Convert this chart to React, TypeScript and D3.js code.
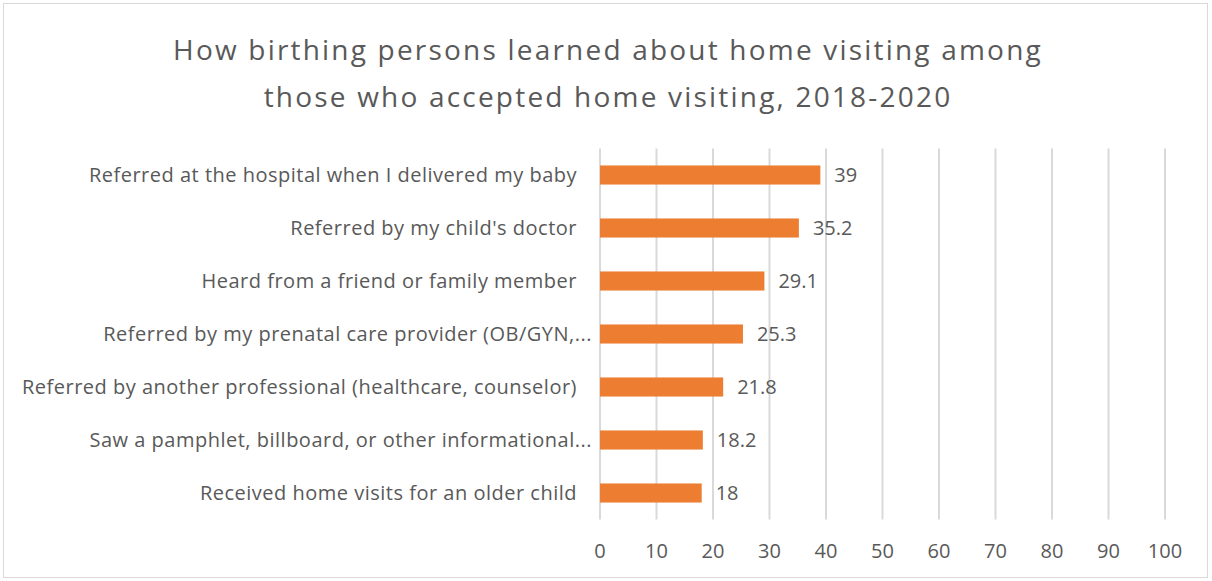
import React from "react";
import * as d3 from "d3";

const categories = [
  "Referred at the hospital when I delivered my baby",
  "Referred by my child's doctor",
  "Heard from a friend or family member",
  "Referred by my prenatal care provider (OB/GYN,...",
  "Referred by another professional (healthcare, counselor)",
  "Saw a pamphlet, billboard, or other informational...",
  "Received home visits for an older child",
];
const values = [39, 35.2, 29.1, 25.3, 21.8, 18.2, 18];
const xTicks = [0, 10, 20, 30, 40, 50, 60, 70, 80, 90, 100];
const titleLines = [
  "How birthing persons learned about home visiting among",
  "those who accepted home visiting, 2018-2020",
];

export default function App() {
  const W = 1212, H = 581;
  const left = 600, right = 1165, top = 148.5, bottom = 519.5;
  const x = d3.scaleLinear().domain([0, 100]).range([left, right]);
  const y = d3.scaleBand<string>().domain(categories).range([top, bottom]).paddingInner(0.64).paddingOuter(0.32);
  const font = "'Open Sans', sans-serif";
  const grey = "#595959";
  return (
    <svg width={W} height={H} style={{ position: "absolute", left: 0, top: 0 }}>
      <rect x={0} y={0} width={W} height={H} fill="#fff" />
      <rect x={3.5} y={3.5} width={1204} height={574} fill="#fff" stroke="#d9d9d9" strokeWidth={1} />
      {titleLines.map((t, i) => (
        <text key={i} x={608} y={60 + i * 47} textAnchor="middle" fontFamily={font} fontSize={28} letterSpacing={2.2} fill={grey}>{t}</text>
      ))}
      {xTicks.map((t) => (
        <g key={t}>
          <line x1={x(t)} x2={x(t)} y1={top} y2={bottom} stroke="#d9d9d9" strokeWidth={2} />
          <text x={x(t)} y={558} textAnchor="middle" fontFamily={font} fontSize={20} fill={grey}>{t}</text>
        </g>
      ))}
      {categories.map((c, i) => {
        const yc = (y(c) as number) + y.bandwidth() / 2;
        const truncated = c.endsWith("...");
        return (
          <g key={c}>
            <rect x={x(0)} y={y(c)} width={x(values[i]) - x(0)} height={y.bandwidth()} fill="#ED7D31" />
            <text x={x(values[i]) + 14} y={yc + 7} fontFamily={font} fontSize={20} fill={grey}>{values[i]}</text>
            <text x={truncated ? 592 : 577} y={yc} dy="0.35em" textAnchor="end" fontFamily={font} fontSize={20} letterSpacing={0.5} fill={grey}>{c}</text>
          </g>
        );
      })}
    </svg>
  );
}
